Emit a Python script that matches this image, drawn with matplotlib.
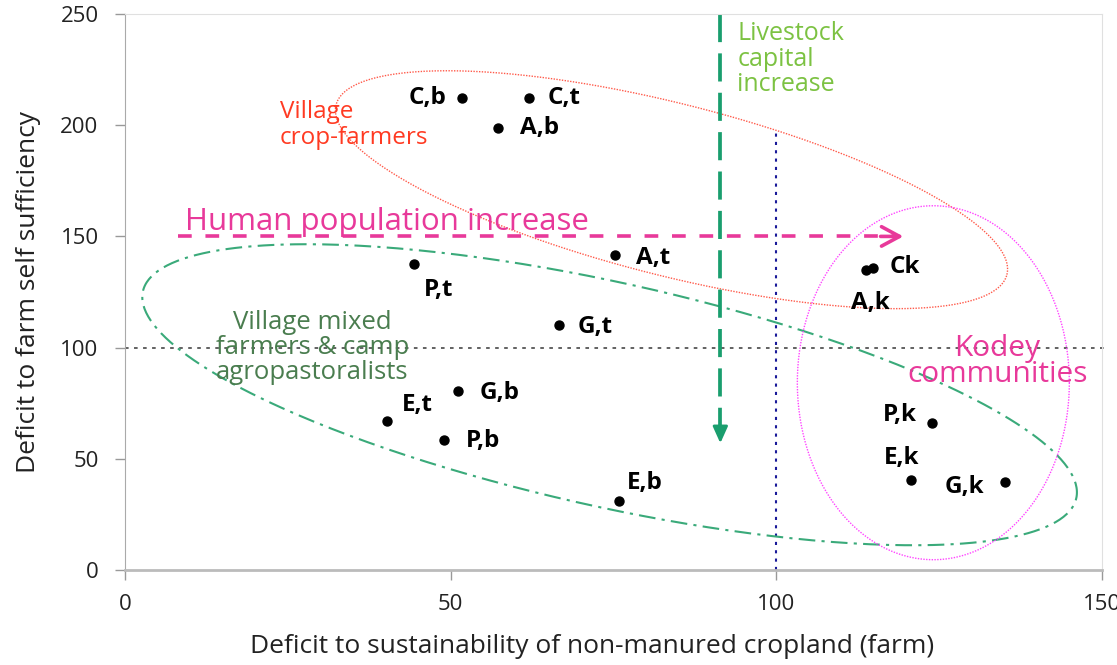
import numpy as np
import matplotlib
matplotlib.use("Agg")
import matplotlib.pyplot as plt

plt.rcParams['font.family'] = ['Open Sans', 'DejaVu Sans']

# groups (label, x, y)
labels = ['C,b', 'C,t', 'A,b', 'A,t', 'P,t', 'G,t', 'G,b', 'E,t', 'P,b', 'E,b',
          'Ck', 'A,k', 'P,k', 'E,k', 'G,k']
x_def = [51.8, 62.0, 57.2, 75.2, 44.3, 66.6, 51.2, 40.3, 48.9, 75.8,
         114.9, 113.7, 123.9, 120.6, 135.1]
y_def = [212.4, 212.4, 198.9, 141.8, 137.7, 110.3, 80.6, 67.1, 58.5, 31.1,
         135.9, 135.0, 66.2, 40.5, 39.6]

x_ticks = [0, 50, 100, 150]
y_ticks = [0, 50, 100, 150, 200, 250]

# label placement (pixels from the point, alignment)
lab_pos = {
    'C,b': (-16, 0, 'right'), 'C,t': (19, 0, 'left'), 'A,b': (22, 0, 'left'),
    'A,t': (21, -3, 'left'), 'P,t': (10, -26, 'left'), 'G,t': (19, -2, 'left'),
    'G,b': (21, -2, 'left'), 'E,t': (14, 16, 'left'), 'P,b': (22, -1, 'left'),
    'E,b': (8, 18, 'left'), 'Ck': (16, 1, 'left'), 'A,k': (-15, -33, 'left'),
    'P,k': (-15, 8, 'right'), 'E,k': (-9, 22, 'center'), 'G,k': (-21, -5, 'right'),
}

fig = plt.figure(figsize=(11.17, 6.65), dpi=100)
ax = fig.add_axes([0.1119, 0.1429, 0.8747, 0.836])
ax.set_xlim(0, 150)
ax.set_ylim(0, 250)

# px per data unit, used to draw the group outlines in screen space
sx = 977 / 150.0
sy = 556 / 250.0


def outline(cx, cy, a, b, ang):
    t = np.linspace(0, 2 * np.pi, 400)
    th = np.radians(ang)
    px = a * np.cos(t) * np.cos(th) - b * np.sin(t) * np.sin(th)
    py = a * np.cos(t) * np.sin(th) + b * np.sin(t) * np.cos(th)
    return cx + px / sx, cy + py / sy


# reference lines
ax.plot([0, 151], [100, 100], ls=(0, (2, 3)), color='#555555', lw=1.3, clip_on=False)
ax.plot([100, 100], [0, 198], ls=(0, (1.5, 2.5)), color='#1a1a99', lw=1.5)

# group outlines
ex, ey = outline(83.9, 171, 346, 86, -14.2)
ax.plot(ex, ey, ls=(0, (1, 1)), color='#ff5a4a', lw=1.0)
ex, ey = outline(74.4, 78.8, 478, 112, -12.5)
ax.plot(ex, ey, ls=(0, (8, 3, 1.5, 3)), color='#3aaa7a', lw=1.5)
ex, ey = outline(124.1, 84.2, 136, 177, 0)
ax.plot(ex, ey, ls=(0, (1, 1)), color='#ff44ff', lw=1.0)

# arrows
ax.plot([91.4, 91.4], [250, 62], ls=(0, (7.5, 3)), color='#1a9e6e', lw=2.7)
ax.annotate('', xy=(91.4, 57), xytext=(91.4, 64),
            arrowprops=dict(arrowstyle='-|>,head_length=1.0,head_width=0.45',
                            color='#1a9e6e', lw=2, shrinkA=0, shrinkB=0))
ax.plot([8.1, 118.5], [150, 150], ls=(0, (3.8, 3.8)), color='#e8399a', lw=2.6)
ax.annotate('', xy=(119.5, 150), xytext=(116, 150),
            arrowprops=dict(arrowstyle='->,head_length=1.3,head_width=0.7',
                            color='#e8399a', lw=2.6, shrinkA=0, shrinkB=0))

# points
ax.scatter(x_def, y_def, s=42, color='black', zorder=5)
for lab, xv, yv in zip(labels, x_def, y_def):
    dx, dy, ha = lab_pos[lab]
    ax.annotate(lab, (xv, yv), xytext=(dx, dy), textcoords='offset pixels',
                ha=ha, va='center', fontsize=17.5, fontweight='bold', color='black')

# group names
ax.text(23.8, 200, 'Village\ncrop-farmers', color='#ff3a22', fontsize=17.5,
        ha='left', va='center', linespacing=1.08)
ax.text(94.0, 229.7, 'Livestock\ncapital\nincrease', color='#7cc242', fontsize=18,
        ha='left', va='center', linespacing=1.03)
ax.text(28.8, 100, 'Village mixed\nfarmers & camp\nagropastoralists', color='#4a7d4f',
        fontsize=18.5, ha='center', va='center', linespacing=1.0)
ax.text(133.9, 93.6, 'Kodey\ncommunities', color='#e8399a', fontsize=21.5,
        ha='center', va='center', linespacing=0.85)
ax.text(9.2, 156.6, 'Human population increase', color='#e8399a', fontsize=22.5,
        ha='left', va='center')

# axes look
ax.set_xticks(x_ticks)
ax.set_yticks(y_ticks)
ax.tick_params(axis='both', labelsize=16, color='#999999', length=7, width=1,
               labelcolor='#222222')
ax.tick_params(axis='y', pad=12)
ax.tick_params(axis='x', pad=10)
for side in ['top', 'right']:
    ax.spines[side].set_color('#e0e0e0')
ax.spines['left'].set_color('#aaaaaa')
ax.spines['bottom'].set_color('#bbbbbb')
ax.spines['bottom'].set_linewidth(2)

ax.set_xlabel('Deficit to sustainability of non-manured cropland (farm)',
              fontsize=19, color='#222222')
ax.xaxis.set_label_coords((592 - 125) / 977.0, -0.115)
ax.set_ylabel('Deficit to farm self sufficiency', fontsize=19, labelpad=14,
              color='#222222')

fig.savefig('out.png', dpi=100)
